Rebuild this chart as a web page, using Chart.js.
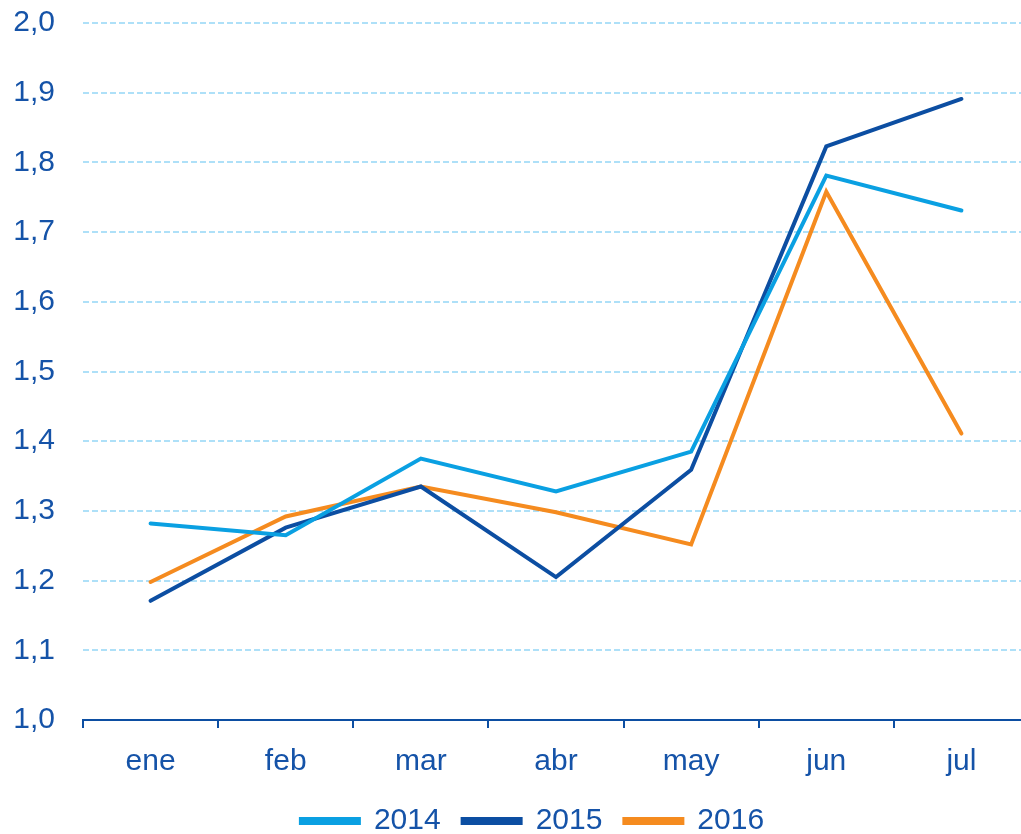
<!DOCTYPE html>
<html lang="es">
<head>
    <meta charset="UTF-8">
    <title>Gráfico</title>
    <script src="https://cdn.jsdelivr.net/npm/chart.js@4"></script>
    <style>
        body { margin: 0; background: #fff; overflow: hidden; }
        #caja { width: 1029px; height: 834px; }
    </style>
</head>
<body>
    <div id="caja"><canvas id="grafico"></canvas></div>

    <script>
    var meses = ['ene', 'feb', 'mar', 'abr', 'may', 'jun', 'jul'];
    var serie2014 = [1.282, 1.265, 1.375, 1.328, 1.385, 1.781, 1.731];
    var serie2015 = [1.171, 1.276, 1.335, 1.205, 1.359, 1.823, 1.891];
    var serie2016 = [1.198, 1.292, 1.335, 1.298, 1.252, 1.758, 1.411];

    var azulTexto = '#1553a8';
    var fuente = { family: 'Liberation Sans, Arial, sans-serif', size: 30 };

    function linea(nombre, datos, color) {
      return {
        label: nombre,
        data: datos,
        borderColor: color,
        backgroundColor: color,
        borderWidth: 4,
        pointRadius: 0,
        tension: 0,
        borderCapStyle: 'round'
      };
    }

    // la leyenda necesita separacion horizontal amplia; se recoloca despues del layout
    var moverLeyenda = {
      id: 'moverLeyenda',
      afterLayout: function (chart) {
        var ley = chart.legend;
        ley.top -= 12;
        ley.bottom = chart.height;
        ley.height = ley.bottom - ley.top;
        ley.left += 11;
        ley.right += 11;
      }
    };

    new Chart(document.getElementById('grafico'), {
      type: 'line',
      data: {
        labels: meses,
        datasets: [
          linea('2014', serie2014, '#0aa0e2'),
          linea('2015', serie2015, '#0c4ea2'),
          linea('2016', serie2016, '#f58b1f')
        ]
      },
      plugins: [moverLeyenda],
      options: {
        responsive: true,
        maintainAspectRatio: false,
        animation: false,
        layout: { padding: { top: 0, left: 14, right: 0, bottom: 0 } },
        plugins: {
          tooltip: { enabled: false },
          legend: {
            position: 'bottom',
            maxHeight: 38,
            labels: {
              color: azulTexto,
              font: fuente,
              boxWidth: 58,
              boxHeight: 4,
              padding: 22
            }
          }
        },
        scales: {
          x: {
            offset: true,
            grid: {
              offset: true,
              drawOnChartArea: false,
              drawTicks: true,
              tickLength: 8,
              color: '#0c4ea2',
              lineWidth: 2
            },
            border: { color: '#0c4ea2', width: 2 },
            ticks: { color: azulTexto, font: fuente, padding: 16 }
          },
          y: {
            min: 1,
            max: 2,
            afterFit: function (eje) {
              eje.width = 69;
              eje.paddingTop = 23;
            },
            ticks: {
              stepSize: 0.1,
              color: azulTexto,
              font: fuente,
              padding: 28,
              callback: function (v) { return v.toFixed(1).replace('.', ','); }
            },
            grid: {
              drawTicks: false,
              color: '#aee0f8',
              lineWidth: 2
            },
            border: { display: false, dash: [6, 3] }
          }
        }
      }
    });
    </script>
</body>
</html>
